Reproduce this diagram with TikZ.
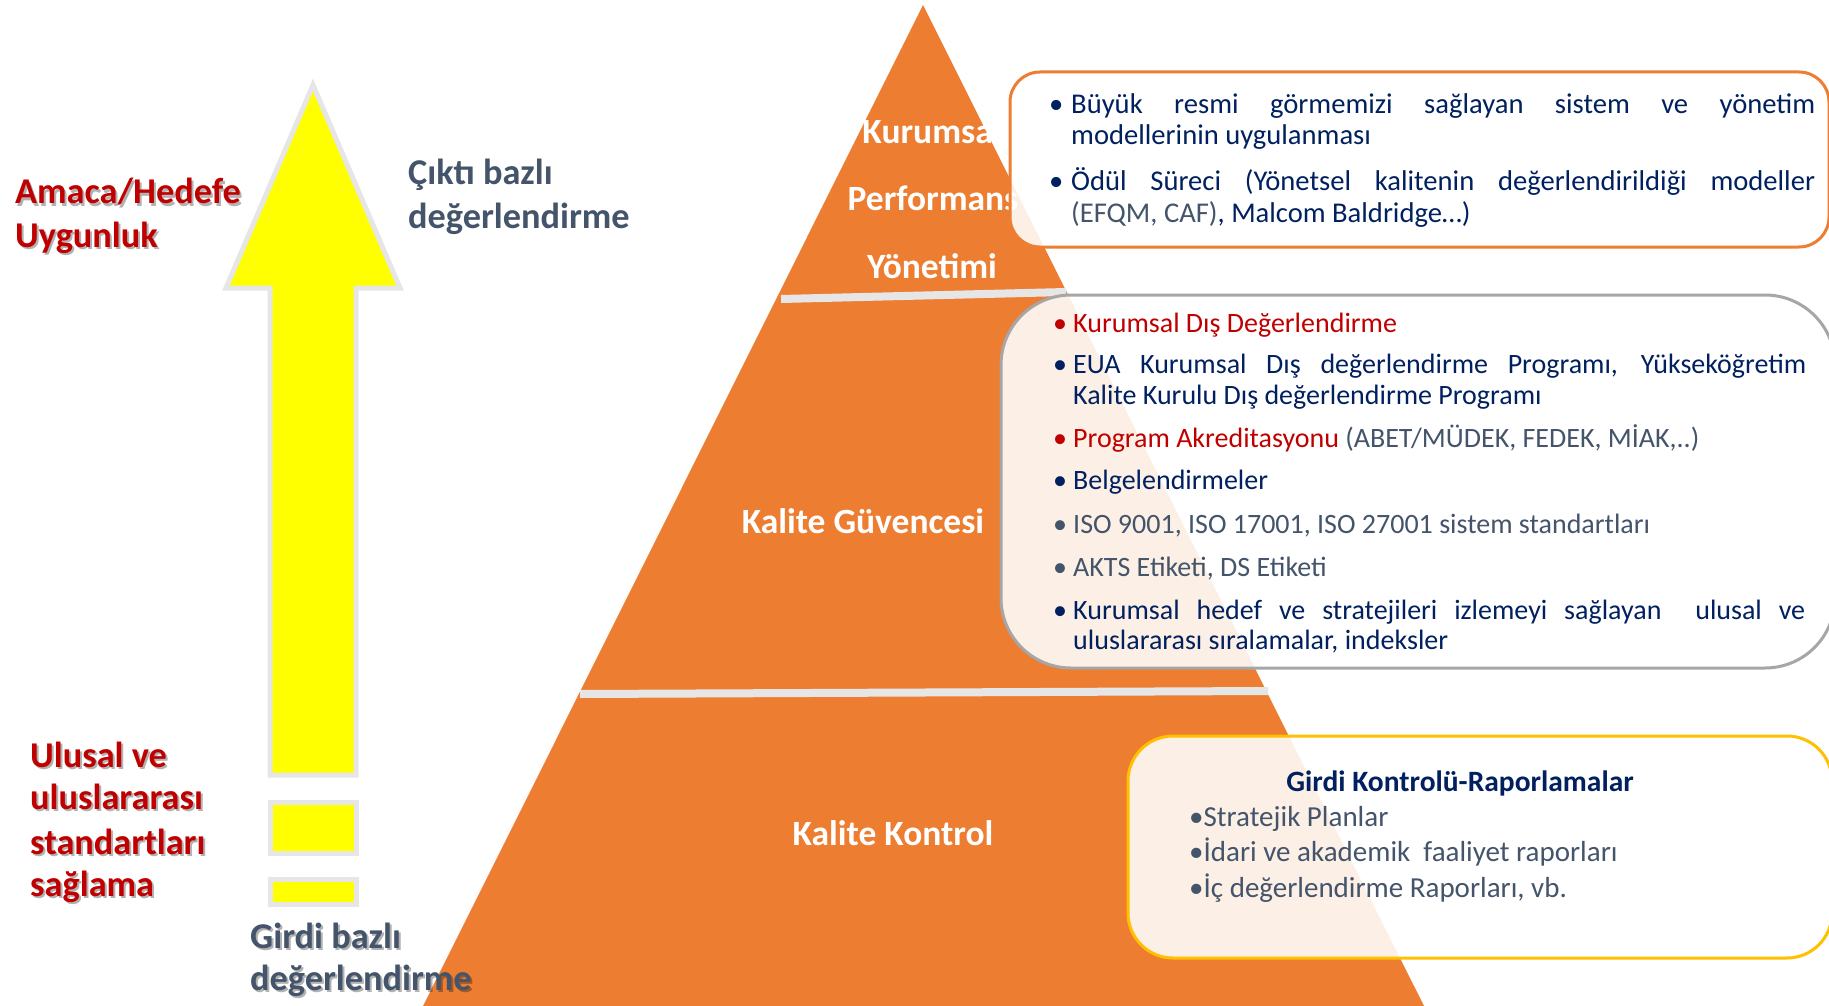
\documentclass[tikz,border=0pt]{standalone}
\usepackage{fontspec}
\setmainfont{Carlito}
\definecolor{pyr}{HTML}{ED7D31}
\definecolor{navy}{HTML}{002060}
\definecolor{dred}{HTML}{C00000}
\definecolor{slate}{HTML}{44546A}
\definecolor{lgray}{HTML}{E6E6E6}
\definecolor{sepc}{HTML}{E7E6E6}
\definecolor{gold}{HTML}{FFC000}
\definecolor{bgray}{HTML}{A6A6A6}
\definecolor{yel}{HTML}{FFFF00}
\begin{document}
\begin{tikzpicture}[x=1pt,y=-1pt,
  lbl/.style={anchor=base, inner sep=0pt, text=white, font=\bfseries\fontsize{35.5}{42}\selectfont},
  side/.style={anchor=base west, inner sep=0pt, font=\bfseries\fontsize{36.3}{43}\selectfont},
  shad/.style={anchor=base west, inner sep=0pt, font=\bfseries\fontsize{36.3}{43}\selectfont, text=black, opacity=0.3},
  itemA/.style={anchor=base west, inner sep=0pt, font=\fontsize{28.6}{34}\selectfont},
  itemB/.style={anchor=base west, inner sep=0pt, font=\fontsize{28}{34}\selectfont},
  itemC/.style={anchor=base west, inner sep=0pt, font=\fontsize{29}{34}\selectfont, text=slate},
  arr/.style={fill=yel, draw=lgray, line width=5pt},
  sepline/.style={draw=sepc, line width=8pt},
  boxbase/.style={fill=white, fill opacity=0.88, line width=3pt}
]
\useasboundingbox (0,0) rectangle (1829,1006);
\clip (0,0) rectangle (1829,1006);
\fill[white] (0,0) rectangle (1829,1006);
% arrow
\filldraw[arr] (313,85) -- (400,288) -- (356,288) -- (356,775) -- (270,775) -- (270,288) -- (226,288) -- cycle;
\filldraw[arr] (270,802) rectangle (356,853);
\filldraw[arr] (270,879) rectangle (356,904);
% pyramid
\fill[pyr] (923,5) -- (1425,1008) -- (422,1008) -- cycle;
\draw[sepline] (781,299) -- (1066,292);
\draw[sepline] (580,694) -- (1268,691);
% pyramid labels
\node[lbl] (kur) at (932,144) {Kurumsal};
\node[lbl] (perf) at (933,211) {Performans};
\node[lbl] (yon) at (932,278) {Yönetimi};
\node[lbl] (kg) at (863,533) {Kalite Güvencesi};
\node[lbl] (kk) at (893,845) {Kalite Kontrol};
% left labels
\node[shad] (sA1) at (17,206) {Amaca/Hedefe};
\node[side, text=dred] (A1) at (15,204) {Amaca/Hedefe};
\node[shad] (sA2) at (17,249) {Uygunluk};
\node[side, text=dred] (A2) at (15,247) {Uygunluk};
\node[side, text=slate] (C1) at (408,185) {Çıktı bazlı};
\node[side, text=slate] (C2) at (408,228) {değerlendirme};
\node[shad] (sU1) at (32,769) {Ulusal ve};
\node[side, text=dred] (U1) at (30,767) {Ulusal ve};
\node[shad] (sU2) at (32,811) {uluslararası};
\node[side, text=dred] (U2) at (30,809) {uluslararası};
\node[shad] (sU3) at (32,856) {standartları};
\node[side, text=dred] (U3) at (30,854) {standartları};
\node[shad] (sU4) at (32,898) {sağlama};
\node[side, text=dred] (U4) at (30,896) {sağlama};
\node[shad] (sG1) at (252,950) {Girdi bazlı};
\node[side, text=slate] (G1) at (250,948) {Girdi bazlı};
\node[shad] (sG2) at (252,992) {değerlendirme};
\node[side, text=slate] (G2) at (250,990) {değerlendirme};
% boxes
\draw[boxbase, draw=pyr, rounded corners=30pt] (1010,72) rectangle (1829,247);
\draw[boxbase, draw=bgray, rounded corners=70pt] (1001,295) rectangle (1835,668);
\draw[boxbase, draw=gold, rounded corners=45pt] (1128,736) rectangle (1832,958);
% box 1 text
\node[itemA, text=navy] (b11) at (1049,114) {•};
\node[itemA, text=navy] (t11) at (1071,114) {\makebox[744pt][s]{Büyük resmi görmemizi sağlayan sistem ve yönetim}};
\node[itemA, text=navy] (t12) at (1071,145) {modellerinin uygulanması};
\node[itemA, text=navy] (b12) at (1049,190) {•};
\node[itemA, text=navy] (t13) at (1071,190) {\makebox[744pt][s]{Ödül Süreci (Yönetsel kalitenin değerlendirildiği modeller}};
\node[itemA, text=navy] (t14) at (1071,222) {\textcolor{slate}{(EFQM, CAF)}, Malcom Baldridge…)};
% box 2 text
\node[itemB, text=dred] (b21) at (1053,332) {•};
\node[itemB, text=dred] (t21) at (1073,332) {Kurumsal Dış Değerlendirme};
\node[itemB, text=navy] (b22) at (1053,373) {•};
\node[itemB, text=navy] (t22) at (1073,373) {\makebox[733pt][s]{EUA Kurumsal Dış değerlendirme Programı, Yükseköğretim}};
\node[itemB, text=navy] (t23) at (1073,404) {Kalite Kurulu Dış değerlendirme Programı};
\node[itemB, text=dred] (b24) at (1053,447) {•};
\node[itemB, text=dred] (t24) at (1073,447) {Program Akreditasyonu \textcolor{slate}{(ABET/MÜDEK, FEDEK, MİAK,..)}};
\node[itemB, text=navy] (b25) at (1053,489) {•};
\node[itemB, text=navy] (t25) at (1073,489) {Belgelendirmeler};
\node[itemB, text=slate] (b26) at (1053,533) {•};
\node[itemB, text=slate] (t26) at (1073,533) {ISO 9001, ISO 17001, ISO 27001 sistem standartları};
\node[itemB, text=slate] (b27) at (1053,576) {•};
\node[itemB, text=slate] (t27) at (1073,576) {AKTS Etiketi, DS Etiketi};
\node[itemB, text=navy] (b28) at (1053,619) {•};
\node[itemB, text=navy] (t28) at (1073,619) {\makebox[732pt][s]{Kurumsal hedef ve stratejileri izlemeyi sağlayan\ \ ulusal ve}};
\node[itemB, text=navy] (t29) at (1073,649) {uluslararası sıralamalar, indeksler};
% box 3 text
\node[anchor=base, inner sep=0pt, text=navy, font=\bfseries\fontsize{29.5}{34}\selectfont] (h3) at (1460,791) {Girdi Kontrolü-Raporlamalar};
\node[itemC] (t31) at (1189,826) {•Stratejik Planlar};
\node[itemC] (t32) at (1189,861) {•İdari ve akademik\ \ faaliyet raporları};
\node[itemC] (t33) at (1189,897) {•İç değerlendirme Raporları, vb.};
\end{tikzpicture}
\end{document}
